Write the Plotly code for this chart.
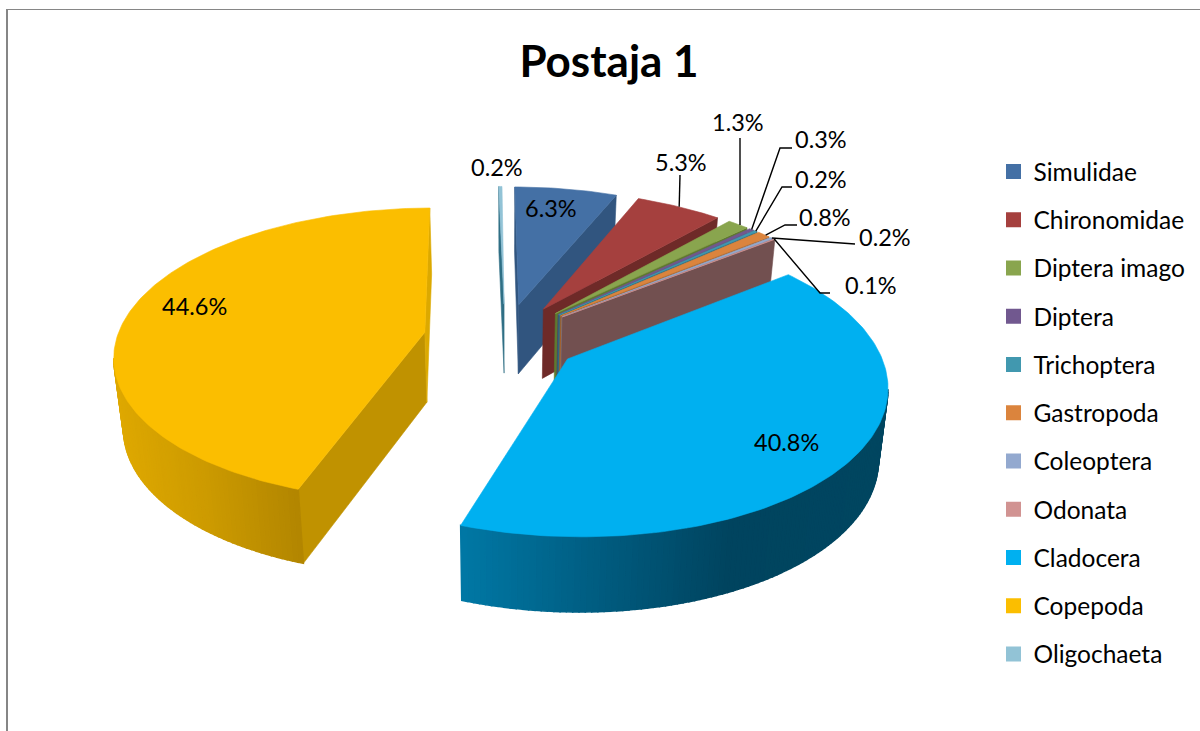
import math
import plotly.graph_objects as go

categories = ["Simulidae", "Chironomidae", "Diptera imago", "Diptera", "Trichoptera", "Gastropoda",
              "Coleoptera", "Odonata", "Cladocera", "Copepoda", "Oligochaeta"]
values = [6.3, 5.3, 1.3, 0.3, 0.2, 0.8, 0.2, 0.1, 40.8, 44.6, 0.2]

colors = ["#4470A5", "#A5403E", "#89A54E", "#71588F", "#4198AF", "#DB843D",
          "#93A9CF", "#D19392", "#00B0F0", "#FBBE00", "#92C3D6"]
wall_colors = ["#31557F", "#6E2A28", "#5E7A2F", "#4F3A69", "#2A6E80", "#A5602A",
               "#7C7F95", "#725050", "#004560", "#C09200", "#2F6F85"]

# gradient on the round wall, (x in pixels, colour)
rim_gradient = {
    "Cladocera": [(460, (0, 120, 165)), (600, (0, 92, 128)), (730, (0, 68, 95)), (890, (0, 70, 96))],
    "Copepoda": [(115, (222, 168, 0)), (200, (205, 155, 0)), (305, (176, 132, 0))],
}

# where the data labels sit
label_pos = {"Simulidae": (551, 208), "Chironomidae": (681, 162), "Diptera imago": (738, 122),
             "Diptera": (821, 139), "Trichoptera": (821, 179), "Gastropoda": (825, 217),
             "Coleoptera": (885, 237), "Odonata": (871, 285), "Cladocera": (786, 442),
             "Copepoda": (194, 306), "Oligochaeta": (497, 167)}
# leader lines: elbow points from the label towards the slice
leader_pts = {"Chironomidae": [(680, 175)], "Diptera imago": [(740, 138)],
              "Diptera": [(792, 148), (780, 148)], "Trichoptera": [(792, 187), (782, 187)],
              "Gastropoda": [(797, 225), (785, 225)], "Coleoptera": [(855, 244)],
              "Odonata": [(830, 293), (820, 293)]}

# projection of the tilted pie to the page
CX, CY = 505, 338
A, B = 308, 144.5
P = 0.149
EXPLODE = 0.243
EXPLODE_LEFT = 1.09  # slices pulled to the left travel a bit further
DEPTH = 70
FIRST_ANGLE = 0.2
FONT = "Lato"


def project(xp, yp):
    w = 1 + P * yp
    return CX + A * xp / w - 3 * yp, CY - B * yp / w


def drop(pt, yp):
    # same point on the bottom of the pie
    return CX + (pt[0] - CX) * 0.975, pt[1] + DEPTH / (1 + 0.06 * yp)


def polygon(pts, color, width=0.6):
    return go.Scatter(x=[p[0] for p in pts] + [pts[0][0]], y=[p[1] for p in pts] + [pts[0][1]],
                      mode="lines", fill="toself", fillcolor=color, line=dict(color=color, width=width),
                      hoverinfo="skip", showlegend=False)


def ramp(stops, x):
    if x <= stops[0][0]:
        return stops[0][1]
    for (x0, c0), (x1, c1) in zip(stops, stops[1:]):
        if x <= x1:
            t = (x - x0) / (x1 - x0)
            return tuple(c0[i] + (c1[i] - c0[i]) * t for i in range(3))
    return stops[-1][1]


def faces_down(a, b, inner):
    # True when the wall under edge a-b shows, i.e. going down leaves the top face
    ex, ey = b[0] - a[0], b[1] - a[1]
    return ex * (ex * (inner[1] - a[1]) - ey * (inner[0] - a[0])) < 0


fig = go.Figure()
total = sum(values)
angle = FIRST_ANGLE
slices = []
for name, val, col, wall in zip(categories, values, colors, wall_colors):
    span = val / total * 360
    mid = math.radians(angle + span / 2)
    ox, oy = EXPLODE * math.sin(mid), EXPLODE * math.cos(mid)
    if ox < 0:
        ox *= EXPLODE_LEFT
    n = max(2, int(span) + 1)
    plane = []
    for i in range(n + 1):
        t = math.radians(angle + span * i / n)
        plane.append((ox + math.sin(t), oy + math.cos(t)))
    slices.append(dict(name=name, col=col, wall=wall, apex=(ox, oy), plane=plane))
    angle += span

# far slices first, so the near ones paint over them
for order in [10, 0, 1, 2, 3, 4, 5, 6, 7, 9, 8]:
    s = slices[order]
    apex_top = project(*s["apex"])
    apex_bot = drop(apex_top, s["apex"][1])
    rim = [project(*p) for p in s["plane"]]
    rim_bot = [drop(q, p[1]) for q, p in zip(rim, s["plane"])]
    inner = rim[len(rim) // 2]

    for idx in (0, -1):
        if faces_down(apex_top, rim[idx], inner):
            color = s["wall"]
            if s["name"] == "Copepoda" and idx == -1:
                color = "#DCA900"
            fig.add_trace(polygon([apex_top, rim[idx], rim_bot[idx], apex_bot], color))

    # round wall, one strip per degree, overlapping so no seams show
    stops = rim_gradient.get(s["name"])
    for i in range(len(rim) - 1):
        if faces_down(rim[i], rim[i + 1], apex_top):
            color = s["wall"]
            if stops:
                r, g, b = ramp(stops, (rim[i][0] + rim[i + 1][0]) / 2)
                color = f"rgb({r:.0f},{g:.0f},{b:.0f})"
            fig.add_trace(polygon([rim[i], rim[i + 1], rim_bot[i + 1], rim_bot[i]], color, width=1.5))

    fig.add_trace(polygon([apex_top] + rim, s["col"]))

# leader lines and labels
for s, val in zip(slices, values):
    name = s["name"]
    if name in leader_pts:
        mid_pt = project(*s["plane"][len(s["plane"]) // 2])
        pts = leader_pts[name] + [mid_pt]
        fig.add_trace(go.Scatter(x=[p[0] for p in pts], y=[p[1] for p in pts], mode="lines",
                                 line=dict(color="black", width=1.4), hoverinfo="skip", showlegend=False))
    lx, ly = label_pos[name]
    fig.add_annotation(x=lx, y=ly, text=f"{val}%", showarrow=False,
                       font=dict(family=FONT, size=23.5, color="black"))

# legend entries, each in its own group so the gap can be set
for name, col in zip(categories, colors):
    fig.add_trace(go.Scatter(x=[None], y=[None], mode="markers", name=name, legendgroup=name,
                             marker=dict(symbol="square", size=15, color=col)))

fig.update_layout(
    width=1200,
    height=731,
    margin=dict(t=0, b=0, l=0, r=0),
    paper_bgcolor="white",
    plot_bgcolor="white",
    title=dict(text="<b>Postaja 1</b>", x=609 / 1200, y=1 - 62 / 731, xanchor="center", yanchor="middle",
               font=dict(family=FONT, size=44, color="black")),
    xaxis=dict(range=[0, 1200], visible=False, fixedrange=True),
    yaxis=dict(range=[731, 0], visible=False, fixedrange=True),
    legend=dict(x=993.5 / 1200, y=1 - 149 / 731, xanchor="left", yanchor="top", tracegroupgap=13.4,
                font=dict(family=FONT, size=24.5, color="black"), bgcolor="rgba(0,0,0,0)"),
    shapes=[
        dict(type="line", x0=7, x1=7, y0=9, y1=731, line=dict(color="#868686", width=2)),
        dict(type="line", x0=6, x1=1200, y0=9.5, y1=9.5, line=dict(color="#868686", width=1)),
    ],
)

# the page keeps the browser's default body margin otherwise
fig.write_html("out.html", post_script="document.body.style.margin = '0';",
               config=dict(displayModeBar=False))
